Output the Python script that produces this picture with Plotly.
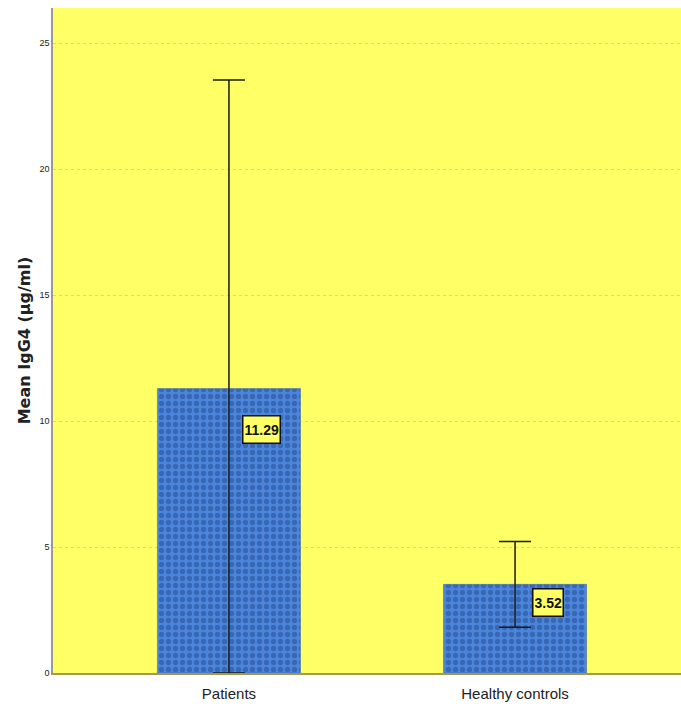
import plotly.graph_objects as go

categories = ["Patients", "Healthy controls"]
means = [11.29, 3.52]
err_plus = [12.25, 1.70]
err_minus = [11.29, 1.70]
labels = ["11.29", "3.52"]
y_ticks = [0, 5, 10, 15, 20, 25]

label_yshift = [-41, -18]

fig = go.Figure()
fig.add_trace(go.Bar(
    x=categories, y=means, width=0.5,
    marker=dict(color="#4b85dc",
                line=dict(color="#3a64a8", width=0.5),
                pattern=dict(shape=".", fgcolor="#26498a", bgcolor="#4b85dc",
                             size=7, solidity=0.45)),
    error_y=dict(type="data", symmetric=False, array=err_plus, arrayminus=err_minus,
                 color="#1a1a1a", thickness=1.5, width=16),
    showlegend=False,
))

for c, v, t, ys in zip(categories, means, labels, label_yshift):
    fig.add_annotation(x=c, y=v, text="<b>" + t + "</b>", showarrow=False,
                       xshift=33, yshift=ys, height=24,
                       font=dict(family="Liberation Sans", size=14, color="#111"),
                       bgcolor="#ffff66", bordercolor="#111", borderwidth=1.5, borderpad=1)

fig.update_layout(
    width=681, height=711,
    margin=dict(l=53, r=0, t=8, b=38),
    paper_bgcolor="white", plot_bgcolor="#ffff66",
)
fig.update_xaxes(range=[-0.615, 1.58], showline=True, linecolor="#a09a50", linewidth=1.5,
                 ticks="", ticklabelstandoff=6,
                 tickfont=dict(family="Liberation Sans", size=15, color="#222"))
fig.update_yaxes(range=[0, 26.4], tickvals=y_ticks, ticktext=[str(v) for v in y_ticks],
                 showline=True, linecolor="#999999", linewidth=1.5,
                 showgrid=True, gridcolor="#d4d4a0", griddash="dot", gridwidth=1,
                 zeroline=False, ticks="",
                 tickfont=dict(family="Liberation Sans", size=9, color="#222"),
                 title=dict(text="<b>Mean IgG4 (µg/ml)</b>", standoff=5,
                            font=dict(family="DejaVu Sans", size=16, color="#222")))

fig.write_html("out.html", config={"displayModeBar": False},
               post_script="document.body.style.margin='0';document.body.style.overflow='hidden';")
